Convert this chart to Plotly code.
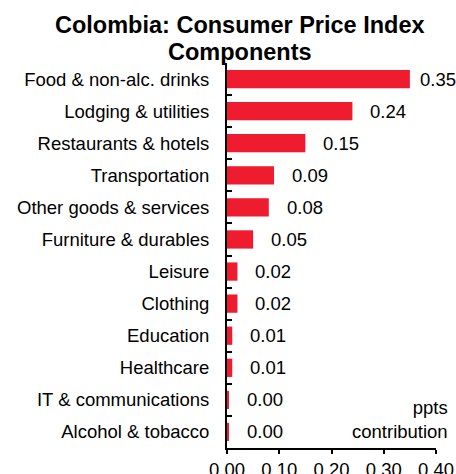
import plotly.graph_objects as go

categories = [
    "Food & non-alc. drinks",
    "Lodging & utilities",
    "Restaurants & hotels",
    "Transportation",
    "Other goods & services",
    "Furniture & durables",
    "Leisure",
    "Clothing",
    "Education",
    "Healthcare",
    "IT & communications",
    "Alcohol & tobacco",
]
contribution = [0.35, 0.24, 0.15, 0.09, 0.08, 0.05, 0.02, 0.02, 0.01, 0.01, 0.003, 0.003]
x_ticks = [0.0, 0.1, 0.2, 0.3, 0.4]
title_lines = ["Colombia: Consumer Price Index", "Components"]

FONT = "Liberation Sans, Arial, sans-serif"
BAR_RED = "#EE1C2E"
FS = 18.5

W, H = 456, 474
ML, MR, MT, MB = 227, 20, 63, 26
PW, PH = W - ML - MR, H - MT - MB


def px_to_paper(px, py):
    """Convert page pixel position to plot-area paper coordinates."""
    return (px - ML) / PW, (H - MB - py) / PH


fig = go.Figure()
fig.add_trace(go.Bar(
    x=contribution,
    y=categories,
    orientation="h",
    marker=dict(color=BAR_RED, line=dict(width=0)),
    width=0.57,
    hoverinfo="skip",
))

# value labels to the right of each bar
for cat, v in zip(categories, contribution):
    shift = 8 if v > 0.3 else 16
    fig.add_annotation(
        x=v, y=cat, xref="x", yref="y",
        text=f"{v:.2f}", showarrow=False,
        xanchor="left", yanchor="middle", xshift=shift, yshift=0,
        font=dict(family=FONT, size=FS, color="black"),
    )

ux, uy = px_to_paper(450, 419)
fig.add_annotation(
    x=ux, y=uy, xref="paper", yref="paper",
    text="ppts<br>contribution", showarrow=False,
    xanchor="right", yanchor="middle", align="right",
    font=dict(family=FONT, size=FS, color="black"),
)

# chart title, one annotation per line
for line, cy in zip(title_lines, [25, 52]):
    tx, ty = px_to_paper(240, cy)
    fig.add_annotation(
        x=tx, y=ty, xref="paper", yref="paper",
        text=f"<b>{line}</b>", showarrow=False,
        xanchor="center", yanchor="middle", align="center",
        font=dict(family=FONT, size=23.5, color="black"),
    )

fig.update_layout(
    width=W, height=H,
    margin=dict(l=ML, r=MR, t=MT, b=MB, autoexpand=False),
    paper_bgcolor="white", plot_bgcolor="white",
    showlegend=False,
    font=dict(family=FONT, size=FS, color="black"),
)

fig.update_xaxes(
    range=[0, 0.4], tickvals=x_ticks, ticktext=[f"{t:.2f}" for t in x_ticks],
    showgrid=False, zeroline=False, automargin=False,
    showline=True, linecolor="black", linewidth=2,
    ticks="outside", ticklen=4, tickwidth=2, tickcolor="black",
    tickfont=dict(family=FONT, size=FS, color="black"),
)
fig.update_yaxes(
    autorange="reversed", showgrid=False, zeroline=False, automargin=False,
    showline=True, linecolor="black", linewidth=2,
    ticks="inside", tickson="boundaries", ticklen=5, tickwidth=2, tickcolor="black",
    ticklabelstandoff=12,
    tickfont=dict(family=FONT, size=FS, color="black"),
)

fig.write_html("out.html")
